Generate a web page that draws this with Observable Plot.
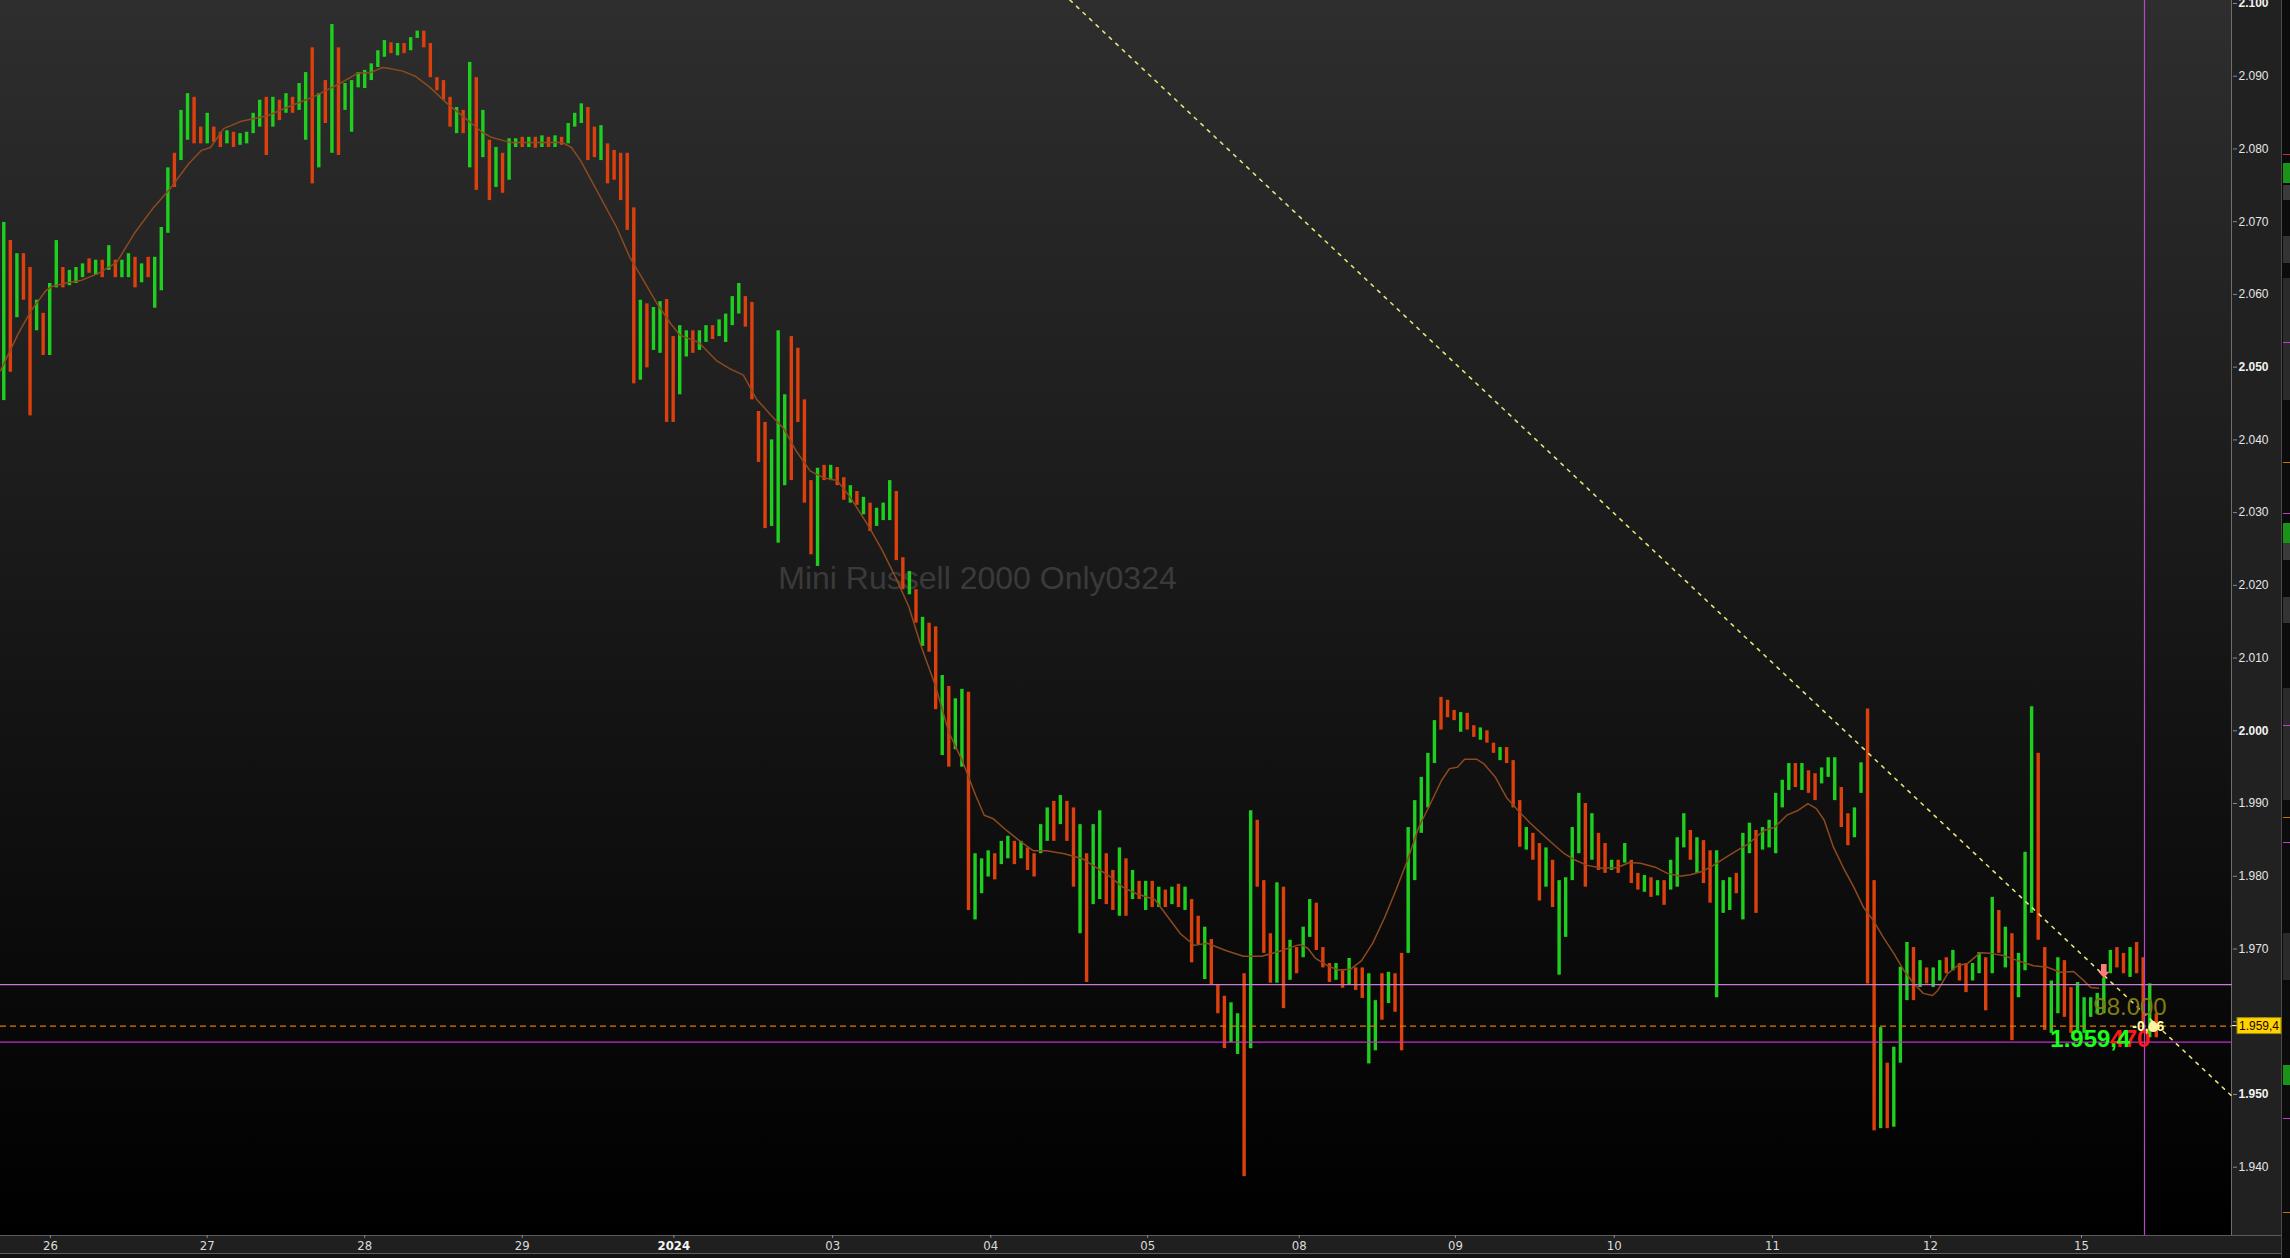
<!DOCTYPE html>
<html><head><meta charset="utf-8">
<script src="https://cdn.jsdelivr.net/npm/d3@7"></script>
<script src="https://cdn.jsdelivr.net/npm/@observablehq/plot@0.6"></script>
<style>
html,body{margin:0;padding:0;background:#101010;overflow:hidden;width:2290px;height:1258px;}
#wrap{position:relative;width:2290px;height:1258px;}
.bg{position:absolute;}
#chart{position:absolute;left:0;top:0;}
.st{position:absolute;left:2283px;width:7px;}
</style></head><body>
<div id="wrap">
 <div class="bg" style="left:0;top:0;width:2232px;height:1235px;background:linear-gradient(#2e2e2e,#000)"></div>
 <div class="bg" style="left:2232px;top:0;width:50px;height:1253px;background:#212121"></div>
 <div class="bg" style="left:0;top:1235px;width:2282px;height:18px;background:#1f1f1f"></div>
 <div class="bg" style="left:0;top:1235px;width:2282px;height:1px;background:#5a5a5a"></div>
 <div class="bg" style="left:2231px;top:0;width:1px;height:1235px;background:#6e6e6e"></div>
 <div class="bg" style="left:0;top:1253px;width:2282px;height:1px;background:#5e5e5e"></div>
 <div class="bg" style="left:2281px;top:0;width:1px;height:1258px;background:#4a4a4a"></div>
 <div class="bg" style="left:2282px;top:0;width:8px;height:1258px;background:#0b0b0b"></div>
 <div class="st" style="top:154px;height:1px;background:#b33"></div>
 <div class="st" style="top:163px;height:20px;background:#199419"></div>
 <div class="st" style="top:185px;height:15px;background:#3a3a3a"></div>
 <div class="st" style="top:236px;height:27px;background:#333"></div>
 <div class="st" style="top:278px;height:122px;background:#2a2a2a"></div>
 <div class="st" style="top:342px;height:1px;background:#c040c8"></div>
 <div class="st" style="top:462px;height:1px;background:#c87000"></div>
 <div class="st" style="top:513px;height:1px;background:#c040c8"></div>
 <div class="st" style="top:523px;height:20px;background:#199419"></div>
 <div class="st" style="top:543px;height:17px;background:#3a3a3a"></div>
 <div class="st" style="top:597px;height:26px;background:#333"></div>
 <div class="st" style="top:688px;height:112px;background:#2a2a2a"></div>
 <div class="st" style="top:725px;height:1px;background:#c040c8"></div>
 <div class="st" style="top:817px;height:1px;background:#c87000"></div>
 <div class="st" style="top:842px;height:1px;background:#c040c8"></div>
 <div class="st" style="top:933px;height:47px;background:#2a2a2a"></div>
 <div class="st" style="top:1065px;height:20px;background:#199419"></div>
 <div class="st" style="top:1118px;height:1px;background:#c040c8"></div>
 <div class="st" style="top:1212px;height:1px;background:#c87000"></div>
 <div id="chart"></div>
</div>
<script>
// ---- data (bar index = intraday bar, 24 bars per session) ----
const highs = [
 2069.9,2067.4,2065.6,2065.6,2063.7,2059.2,2057.4,2061.5,2067.4,2063.7,
 2063.3,2063.7,2064.2,2064.9,2064.7,2064.7,2066.7,2064.7,2064.7,2065.6,
 2065.1,2064.2,2065.1,2065.1,2069.2,2077.4,2079.4,2085.3,2087.6,2087.1,
 2083.0,2084.9,2083.0,2082.3,2082.5,2082.3,2082.1,2082.3,2084.9,2086.7,
 2087.1,2087.1,2086.7,2087.6,2087.1,2089.0,2090.5,2093.9,2087.6,2089.4,
 2097.1,2093.9,2089.0,2089.4,2090.5,2090.8,2091.7,2093.5,2094.9,2094.6,
 2094.5,2094.5,2095.3,2096.2,2096.2,2094.5,2089.8,2089.4,2087.1,2085.7,
 2085.3,2091.9,2089.8,2085.3,2081.2,2080.2,2079.4,2081.4,2081.4,2081.6,
 2081.6,2081.6,2081.8,2081.6,2081.8,2081.6,2083.5,2084.9,2086.2,2085.7,
 2083.0,2083.2,2080.7,2079.8,2079.4,2079.4,2071.9,2059.2,2058.7,2058.2,
 2059.0,2059.3,2054.2,2055.7,2055.0,2055.0,2055.0,2055.7,2055.7,2056.5,
 2057.3,2059.7,2061.5,2059.7,2058.9,2043.9,2042.4,2040.0,2055.0,2046.2,
 2054.2,2052.6,2045.5,2034.4,2036.1,2036.5,2036.5,2036.2,2034.8,2033.7,
 2032.9,2032.1,2031.3,2030.6,2031.3,2034.4,2032.9,2023.8,2021.9,2019.4,
 2015.6,2014.8,2014.3,2007.6,2006.1,2004.4,2005.7,2005.3,1983.1,1982.4,
 1983.5,1983.1,1984.8,1985.5,1984.8,1984.8,1983.9,1983.1,1987.1,1989.4,
 1990.3,1991.1,1990.3,1989.4,1987.1,1983.1,1987.1,1989.0,1983.1,1980.8,
 1983.9,1982.4,1980.8,1979.3,1979.3,1979.3,1978.5,1978.1,1978.5,1978.9,
 1978.5,1976.8,1974.5,1973.0,1971.3,1965.0,1963.5,1962.6,1961.1,1966.6,
 1989.0,1987.7,1979.4,1972.1,1979.1,1978.5,1971.2,1970.2,1973.0,1976.8,
 1976.3,1970.2,1968.0,1968.0,1967.0,1968.7,1967.4,1967.4,1966.6,1962.9,
 1966.6,1966.8,1966.6,1969.4,1986.7,1990.4,1993.6,1996.9,2001.4,2004.6,
 2004.2,2002.8,2002.5,2002.4,2000.7,2000.4,2000.0,1998.3,1997.7,1997.7,
 1995.9,1990.4,1986.7,1985.9,1984.5,1983.9,1982.2,1979.4,1979.8,1986.7,
 1991.4,1990.0,1988.6,1985.9,1984.5,1982.2,1982.2,1984.5,1982.2,1980.4,
 1980.1,1979.8,1979.4,1979.4,1982.2,1985.3,1988.6,1986.3,1985.3,1984.9,
 1983.5,1983.5,1979.4,1979.8,1980.4,1985.9,1987.3,1986.3,1986.7,1987.7,
 1991.4,1993.2,1995.5,1995.5,1995.5,1994.5,1994.1,1994.9,1996.3,1996.3,
 1992.2,1988.6,1989.4,1995.6,2003.0,1979.4,1959.2,1954.3,1956.5,1967.5,
 1970.9,1970.2,1968.4,1967.4,1967.4,1968.4,1968.8,1969.8,1968.0,1968.0,
 1968.0,1969.5,1968.8,1977.1,1975.3,1973.0,1972.1,1969.4,1983.3,2003.3,
 1996.9,1970.2,1965.6,1968.8,1968.4,1964.7,1965.4,1963.3,1963.3,1963.9,
 1966.0,1969.8,1970.2,1969.4,1970.2,1970.9,1968.8,1965.2,1961.1
];
const lows = [
 2045.4,2049.3,2056.8,2059.2,2043.3,2055.0,2051.6,2051.6,2060.9,2060.9,
 2061.2,2061.5,2062.3,2062.9,2062.6,2062.3,2063.3,2062.3,2062.3,2062.3,
 2060.9,2061.6,2062.3,2058.1,2060.5,2068.4,2074.7,2078.4,2081.2,2080.7,
 2080.7,2080.7,2080.9,2080.2,2080.7,2080.2,2080.5,2080.7,2082.1,2083.0,
 2079.1,2083.0,2083.9,2084.9,2084.9,2085.3,2081.2,2075.2,2077.4,2083.5,
 2079.4,2079.1,2085.3,2082.3,2088.4,2088.3,2089.4,2091.2,2092.6,2093.1,
 2092.8,2093.1,2093.5,2095.2,2093.9,2089.8,2088.0,2086.7,2083.0,2082.1,
 2082.1,2077.4,2074.3,2078.8,2072.9,2074.7,2073.9,2075.7,2080.2,2080.2,
 2080.2,2080.1,2080.2,2080.2,2080.2,2080.5,2080.7,2083.0,2083.5,2078.4,
 2078.8,2078.4,2075.2,2075.7,2072.9,2068.8,2047.7,2048.2,2049.9,2052.3,
 2051.9,2042.4,2042.4,2046.2,2051.4,2051.9,2052.3,2053.4,2053.8,2054.2,
 2053.4,2055.7,2057.3,2055.5,2045.5,2036.9,2027.8,2028.1,2025.8,2033.7,
 2034.4,2042.4,2031.3,2024.2,2022.6,2034.4,2034.4,2033.7,2031.7,2031.3,
 2031.0,2029.7,2027.4,2028.1,2028.9,2028.9,2023.4,2019.4,2018.7,2014.8,
 2011.6,2010.8,2002.9,1996.6,1995.0,1997.4,1995.0,1975.3,1974.0,1977.6,
 1979.9,1979.5,1981.6,1982.4,1981.6,1982.4,1980.8,1979.9,1983.1,1984.8,
 1984.8,1987.1,1984.8,1978.5,1972.1,1965.4,1976.1,1976.8,1976.1,1975.3,
 1974.5,1974.5,1976.8,1976.8,1975.3,1975.7,1975.7,1975.7,1976.1,1975.7,
 1975.3,1968.1,1970.5,1965.8,1965.0,1961.1,1956.3,1957.1,1955.5,1938.7,
 1956.3,1978.5,1969.4,1965.3,1965.3,1961.8,1965.7,1966.6,1968.8,1971.6,
 1969.8,1967.4,1965.4,1965.7,1964.6,1965.0,1964.3,1963.2,1954.2,1956.0,
 1960.2,1962.5,1961.3,1956.0,1969.4,1979.4,1985.9,1989.4,1995.5,2000.1,
 2001.8,2001.4,1999.8,2000.1,1999.1,1998.7,1998.3,1996.9,1995.9,1995.5,
 1989.4,1984.0,1983.6,1982.2,1976.6,1978.5,1975.7,1966.4,1971.6,1979.4,
 1983.1,1978.5,1982.2,1980.8,1980.4,1980.8,1980.4,1981.8,1979.0,1978.1,
 1977.8,1977.1,1977.3,1976.0,1978.1,1978.5,1983.9,1982.2,1980.4,1979.0,
 1976.3,1963.3,1974.9,1975.3,1977.6,1974.0,1983.1,1974.9,1983.6,1983.9,
 1983.1,1989.4,1991.8,1992.2,1991.8,1991.4,1990.4,1992.7,1993.6,1990.4,
 1986.7,1984.2,1985.3,1991.4,1965.2,1945.0,1945.3,1945.3,1945.5,1954.3,
 1962.9,1962.9,1964.7,1965.2,1964.7,1965.6,1966.6,1967.0,1965.6,1964.0,
 1965.6,1966.6,1961.5,1966.6,1969.4,1967.4,1957.4,1963.3,1967.0,1974.9,
 1971.2,1958.8,1958.4,1961.1,1960.6,1958.4,1958.8,1958.4,1960.6,1961.1,
 1961.1,1966.6,1967.4,1966.6,1966.1,1966.6,1959.6,1957.8,1957.8
];
// G = up bar, R = down bar
const directions = (
 "GRGRRGRGGR" + "GGGRGRGRGG" + "RGRGGGRGGR" + "RGRRGRGGGG" + "RGRGRGGRGR" +
 "GRGGGGGGGR" + "GRGGRRRRRG" + "RGRGRGRGGR" + "GRGRGRGGGR" + "RGRRRRRGRG" +
 "GRRGGRGGRG" + "GGGRRRRGGG" + "RRRRGRGRRG" + "RGRGGGRRGR" + "GRRGRGGRGG" +
 "GRGGRGRRGG" + "RGRRGRGGRR" + "GRGRGRGRGR" + "GRRGRRRGGR" + "GRRRGRGRGG" +
 "RRRGRGRRGG" + "RGRRGGGGGR" + "RRGRRGRRGR" + "RRGRRGRGGG" + "GRGRRGRGRR" +
 "GRGRGGGRGR" + "RGGGRGGRGG" + "GGGRGRRGGG" + "RRGGRRGRGG" + "GRGRGGRGRR" +
 "GGRGRGRGGG" + "RRGGRRGGGG" + "GGRRGRRGR").split("");

// moving average
const maIndex = [
 0,2.7,4.7,6.9,7.8,10.2,12.2,14.9,17.7,20.4,
 23.2,25.9,28.7,30.6,32,34,36.7,38.7,40.8,43.6,
 47.5,51.7,54.4,56.4,58.2,59.1,61.3,63.2,65.4,68,
 70.7,73.4,74.8,77.6,81.7,85.6,87,88.4,91.1,93.9,
 95.9,98,100,102.1,103.5,106.4,109.1,111.1,113.2,115.2,
 117.3,119.3,121.3,123.4,125.4,127.5,129.5,132.3,134.3,136.4,
 138.4,140.3,142.5,144.5,146.6,148.6,149.9,151.3,153.3,155.4,
 157.4,159.4,162.1,164.9,167,169,171,173.1,175.9,177.8,
 179.8,181.9,183.9,186.7,189.4,192.2,194.9,197.5,198.1,199.2,
 200.4,202.2,203.9,205.7,207.4,209.1,210.9,212.6,214.4,216.1,
 217.9,219.6,220.8,222,223.1,224.9,226,227.8,229.5,231.3,
 233,234.8,236.5,238.3,240,241.8,244.1,246.4,248.2,249.9,
 252.3,254,255.9,257.5,259.4,261,262.9,264.5,266.4,268.7,
 270.3,272.2,273.8,275.4,276.7,277.9,279.3,280.8,282.4,283.9,
 285.4,286.9,288.5,290,291.5,293,294.4,295.2,296.7,298.2,
 299.7,301.7,303.2,305.2,307.4,309.8,311.9,313.9,315.9,317.4,
 318.5,319.7
];
const maValues = [
 2049.5,2054.6,2057.8,2060.5,2061.1,2061.6,2061.9,2062.9,2064.4,2068.4,
 2071.8,2074.6,2078.0,2079.8,2080.2,2082.8,2083.8,2084.2,2084.6,2085.7,
 2087.1,2089.0,2090.4,2090.5,2091.2,2091.1,2090.7,2090.0,2088.5,2086.3,
 2084.3,2082.3,2081.6,2080.9,2080.9,2080.9,2080.2,2078.4,2073.9,2069.2,
 2065.1,2061.9,2058.8,2056.0,2054.4,2053.4,2050.9,2049.8,2048.9,2045.6,
 2043.5,2041.6,2038.4,2035.7,2034.8,2034.4,2032.1,2028.1,2024.9,2021.1,
 2017.1,2011.6,2006.1,1999.8,1995.8,1991.1,1988.4,1987.9,1986.3,1984.8,
 1983.5,1983.5,1983.1,1982.4,1981.2,1980.0,1978.5,1977.6,1976.8,1974.5,
 1972.1,1970.5,1970.8,1969.8,1969.0,1969.0,1969.7,1970.5,1970.6,1970.1,
 1968.7,1967.7,1967.1,1967.2,1968.4,1970.8,1974.3,1978.0,1982.2,1986.7,
 1990.0,1993.2,1994.8,1995.0,1996.1,1996.1,1995.5,1993.6,1990.8,1989.0,
 1987.4,1985.9,1984.5,1983.1,1982.2,1981.5,1981.1,1981.2,1981.9,1981.8,
 1981.2,1980.4,1980.0,1980.2,1980.7,1981.5,1982.6,1983.5,1984.5,1986.3,
 1986.7,1988.4,1989.0,1990.0,1989.3,1987.7,1984.0,1981.2,1978.5,1975.7,
 1973.9,1971.6,1969.4,1967.1,1965.3,1963.9,1963.6,1964.3,1966.6,1967.7,
 1968.0,1969.5,1969.4,1969.1,1968.4,1967.7,1967.5,1966.8,1966.9,1965.7,
 1964.7,1964.6
];

// drawn levels
const trendIndex = [150, 340.1];
const trendValues = [2111.5, 1949.7];
const upperLevel = 1965.1;
const lowerLevel = 1957.2;
const lastPrice = 1959.4;
const cursorIndex = 326.7;

// axes
const yTicks = d3.range(1940, 2101, 10);
const xTickPos = [7.6, 31.5, 55.5, 79.5, 102.6, 126.8, 150.9, 174.8, 197.9, 221.7, 245.9, 270.0, 294.1, 317.1];
const xTickLabels = ["26","27","28","29","2024","03","04","05","08","09","10","11","12","15"];

const title = "Mini Russell 2000 Only0324";
const volumeText = "98.000";
const priceTextA = "1.959,4";
const priceTextB = "470";
const changeText = "-0,06";

// ---- build ----
const bars = highs.map((h, i) => ({i: i + 0.5, high: h, low: lows[i], up: directions[i] === "G"}));
const ma = maIndex.map((x, k) => ({x, v: maValues[k]}));
const trend = trendIndex.map((x, k) => ({x, v: trendValues[k]}));
const last = bars[bars.length - 1];
const GREEN = "#1fcf1f", RED = "#dc400c";
const fmtY = d => Math.floor(d / 1000) + "." + String(d % 1000).padStart(3, "0");
const FONT = "'Liberation Sans', Arial, sans-serif";
const NARROW = "'Liberation Sans Narrow', 'Arial Narrow', 'DejaVu Sans Condensed', sans-serif";

const arrowDown = {draw(ctx, size) {
  const r = Math.sqrt(size / Math.PI), sw = r * 0.4, hw = r * 0.8;
  ctx.moveTo(-sw, -r); ctx.lineTo(sw, -r); ctx.lineTo(sw, 0.1 * r); ctx.lineTo(hw, 0.1 * r);
  ctx.lineTo(0, r); ctx.lineTo(-hw, 0.1 * r); ctx.lineTo(-sw, 0.1 * r); ctx.closePath();
}};

const labelAt = (t) => [{x: last.i, y: lastPrice, t}];

const plot = Plot.plot({
  width: 2290, height: 1258,
  marginLeft: 0, marginTop: 0, marginRight: 58, marginBottom: 23,
  style: {background: "transparent", color: "#e4e4e4", fontFamily: FONT, overflow: "visible"},
  x: {type: "linear", domain: [0, 340.11], axis: null},
  y: {type: "linear", domain: [1930.61, 2100.41], axis: null},
  marks: [
    Plot.text([title], {frameAnchor: "top-left", dx: 977, dy: 578, text: d => d, fontSize: 32,
      fill: "#3a3a3a", textAnchor: "middle", lineAnchor: "middle", fontFamily: FONT}),
    Plot.ruleX(bars.filter(d => d.up), {x: "i", y1: "low", y2: "high", stroke: GREEN, strokeWidth: 3.4}),
    Plot.ruleX(bars.filter(d => !d.up), {x: "i", y1: "low", y2: "high", stroke: RED, strokeWidth: 3.4}),
    Plot.line(ma, {x: "x", y: "v", stroke: "#8c4a1e", strokeWidth: 1.5}),
    Plot.ruleY([upperLevel], {stroke: "#c77dd0", strokeWidth: 1.2}),
    Plot.ruleY([lowerLevel], {stroke: "#c22fc8", strokeWidth: 1.2}),
    Plot.ruleY([lastPrice], {stroke: "#e07b00", strokeWidth: 1.2, strokeDasharray: "6,4"}),
    Plot.line(trend, {x: "x", y: "v", stroke: "#e6e27a", strokeWidth: 1.6, strokeDasharray: "3,6", clip: true}),
    Plot.ruleX([cursorIndex], {stroke: "#c040cc", strokeWidth: 1.2}),
    Plot.dot([bars[320]], {x: "i", y: "high", symbol: arrowDown, r: 7, fill: "#ff7b7b", stroke: null, dy: -7}),
    Plot.text(labelAt(volumeText), {x: "x", y: "y", text: "t", dx: -63, dy: -19, fontSize: 24,
      fill: "#807c14", textAnchor: "start", lineAnchor: "middle", fontFamily: FONT}),
    Plot.text(labelAt(priceTextB), {x: "x", y: "y", text: "t", dx: -46, dy: 13, fontSize: 24, fontWeight: "bold",
      fill: "#ff1a1a", textAnchor: "start", lineAnchor: "middle", fontFamily: FONT}),
    Plot.text(labelAt(priceTextA), {x: "x", y: "y", text: "t", dx: -106, dy: 13, fontSize: 24, fontWeight: "bold",
      fill: "#19ff19", textAnchor: "start", lineAnchor: "middle", fontFamily: FONT}),
    Plot.text(labelAt(changeText), {x: "x", y: "y", text: "t", dx: -24, dy: 0, fontSize: 14, fontWeight: "bold",
      fill: "#ffffa8", textAnchor: "start", lineAnchor: "middle", fontFamily: FONT}),
    Plot.dot(labelAt(""), {x: "x", y: "y", r: 5, dx: -3, dy: 1, fill: "#fff2a0", stroke: null}),
    Plot.axisY(yTicks.filter(d => d % 50 !== 0), {anchor: "right", tickSize: 4, tickPadding: 2, tickFormat: fmtY,
      fontSize: 12, stroke: "#8a8a8a", fill: "#e6e6e6", label: null, fontFamily: FONT}),
    Plot.axisY(yTicks.filter(d => d % 50 === 0), {anchor: "right", tickSize: 4, tickPadding: 2, tickFormat: fmtY,
      fontSize: 12, fontWeight: "bold", stroke: "#8a8a8a", fill: "#f2f2f2", label: null, fontFamily: FONT}),
    Plot.axisX(xTickPos.filter((d, k) => xTickLabels[k] !== "2024"), {anchor: "bottom", tickSize: 3, tickPadding: 2,
      tickFormat: d => xTickLabels[xTickPos.indexOf(d)], fontSize: 13, stroke: "#8a8a8a", fill: "#dcdcdc",
      label: null, fontFamily: NARROW}),
    Plot.axisX(xTickPos.filter((d, k) => xTickLabels[k] === "2024"), {anchor: "bottom", tickSize: 3, tickPadding: 2,
      tickFormat: d => xTickLabels[xTickPos.indexOf(d)], fontSize: 13, fontWeight: "bold", stroke: "#8a8a8a",
      fill: "#f4f4f4", label: null, fontFamily: NARROW})
  ]
});
document.getElementById("chart").appendChild(plot);

// last-price tag on the price axis, placed with the plot's own y scale
const py = plot.scale("y").apply(lastPrice);
const svg = d3.select(plot);
svg.append("line").attr("x1", 2232).attr("x2", 2237).attr("y1", py).attr("y2", py).attr("stroke", "#ffffff");
svg.append("rect").attr("x", 2237).attr("y", py - 8).attr("width", 44).attr("height", 16)
  .attr("fill", "#ffd400").attr("stroke", "#9a8a00");
svg.append("text").attr("x", 2259).attr("y", py + 4.5).attr("text-anchor", "middle")
  .attr("font-size", 12).attr("font-family", FONT).attr("fill", "#240000").text(fmtY(1959) + ",4");
</script>
</body></html>
